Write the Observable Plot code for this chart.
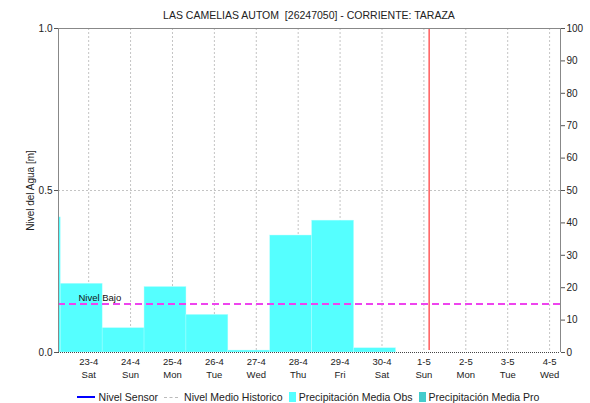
<!DOCTYPE html>
<html><head><meta charset="utf-8">
<script src="https://cdn.jsdelivr.net/npm/d3@7"></script>
<script src="https://cdn.jsdelivr.net/npm/@observablehq/plot@0.6"></script>
<style>
html,body{margin:0;padding:0;background:#fff;overflow:hidden}
body{width:590px;height:403px;font-family:"Liberation Sans",Arial,sans-serif;color:#111}
#title{height:24px;box-sizing:border-box;padding:9px 30px 0 58px;text-align:center;font-size:10.5px;white-space:pre;line-height:12px;color:#222}
#chart{height:357px}
#legend{height:22px;box-sizing:border-box;padding:10px 30px 0 56px;display:flex;justify-content:center;align-items:center;font-size:10.5px;line-height:12px;color:#222;white-space:nowrap}
.item{display:flex;align-items:center;margin:0 3px}
.sw{display:inline-block;margin-right:4px}
</style></head><body>
<div id="title"></div>
<div id="chart"></div>
<div id="legend"></div>
<script>
const titleText = "LAS CAMELIAS AUTOM  [26247050] - CORRIENTE: TARAZA";
const yLabel = "Nivel del Agua [m]";
const dayLabels = ["23-4","24-4","25-4","26-4","27-4","28-4","29-4","30-4","1-5","2-5","3-5","4-5"];
const weekdayLabels = ["Sat","Sun","Mon","Tue","Wed","Thu","Fri","Sat","Sun","Mon","Tue","Wed"];
// precipitation (mm) for 24h periods ending at periodEndHour of each day
const precipDays = ["22-4","23-4","24-4","25-4","26-4","27-4","28-4","29-4","30-4"];
const precipValues = [41.7, 21.2, 7.5, 20.2, 11.6, 0.6, 36.1, 40.7, 1.3];
const periodEndHour = 8;
const nivelBajo = 0.15; // m
const nivelBajoLabel = "Nivel Bajo";
const levelTicks = [0, 0.5, 1.0];
const levelMax = 1.0;
const precipTicks = [0,10,20,30,40,50,60,70,80,90,100];
const precipMax = 100;
const nowDay = "1-5", nowHour = 3;
const viewStart = -0.72, viewEnd = 11.26; // days relative to first label
const legendItems = [
  {label:"Nivel Sensor", kind:"line", color:"#0000ff"},
  {label:"Nivel Medio Historico", kind:"dash", color:"#bbbbbb"},
  {label:"Precipitación Media Obs", kind:"box", color:"#55ffff"},
  {label:"Precipitación Media Pro", kind:"box", color:"#44cccc"}
];

document.getElementById("title").textContent = titleText;

const dayIndex = d => d === "22-4" ? -1 : dayLabels.indexOf(d);
const precipData = precipDays.map((d,i) => {
  const x2 = dayIndex(d) + periodEndHour/24;
  return {x1: x2 - 1, x2, v: precipValues[i]};
});
const toY = m => m / levelMax * precipMax;
const nowX = dayIndex(nowDay) + nowHour/24;
const ticksX = d3.range(dayLabels.length);

const chart = Plot.plot({
  width: 590, height: 357,
  marginLeft: 58, marginRight: 30, marginTop: 4, marginBottom: 29,
  style: {fontFamily: '"Liberation Sans", Arial, sans-serif', fontSize: "10px", color: "#222", overflow: "visible"},
  x: {domain: [viewStart, viewEnd]},
  y: {domain: [0, precipMax]},
  marks: [
    Plot.gridX(ticksX, {stroke: "#c4c4c4", strokeOpacity: 1, strokeDasharray: "2,2"}),
    Plot.gridY([toY(0.5)], {stroke: "#c4c4c4", strokeOpacity: 1, strokeDasharray: "2,2"}),
    Plot.rectY(precipData, {x1: "x1", x2: "x2", y: "v", fill: "#55ffff", stroke: "#b0ffff", strokeWidth: 0.4, clip: true}),
    Plot.ruleY([0], {stroke: "#444", strokeDasharray: "1,1"}),
    Plot.ruleY([toY(nivelBajo)], {stroke: "#ee44ee", strokeWidth: 2, strokeDasharray: "7,4"}),
    Plot.text([nivelBajoLabel], {x: viewStart, y: toY(nivelBajo), text: d => d, textAnchor: "start", dx: 20, dy: -6, fill: "#111", fontSize: 9.5}),
    Plot.ruleX([nowX], {stroke: "#ff3333", strokeWidth: 1.2, y1: 0, y2: precipMax, insetTop: -2}),
    Plot.ruleX([viewStart, viewEnd], {stroke: "#888"}),
    Plot.ruleY([precipMax], {stroke: "#888"}),
    Plot.axisY(levelTicks.map(toY), {anchor: "left", tickFormat: d => (d / precipMax * levelMax).toFixed(1), tickSize: 4, tickPadding: 2, label: null, stroke: "#555"}),
    Plot.text([yLabel], {frameAnchor: "left", text: d => d, rotate: -90, dx: -28, textAnchor: "middle", fill: "#222", fontSize: 10}),
    Plot.axisY(precipTicks, {anchor: "right", tickSize: 4, tickPadding: 2, label: null, stroke: "#555"}),
    Plot.axisX(ticksX, {anchor: "bottom", tickSize: 0, tickPadding: 4, tickFormat: i => dayLabels[i] + "\n" + weekdayLabels[i], lineHeight: 1.3, label: null, fontSize: 9.5})
  ]
});
document.getElementById("chart").appendChild(chart);

const leg = document.getElementById("legend");
for (const it of legendItems) {
  const el = document.createElement("span");
  el.className = "item";
  const sw = document.createElement("span");
  sw.className = "sw";
  if (it.kind === "line") { sw.style.cssText = `width:18px;height:1.5px;background:${it.color}`; }
  else if (it.kind === "dash") { sw.style.cssText = `width:14px;height:0;border-top:1.5px dashed ${it.color};margin-right:6px`; }
  else { sw.style.cssText = `width:7px;height:10px;background:${it.color};margin-right:3px`; }
  el.appendChild(sw);
  el.appendChild(document.createTextNode(it.label));
  leg.appendChild(el);
}
</script>
</body></html>
